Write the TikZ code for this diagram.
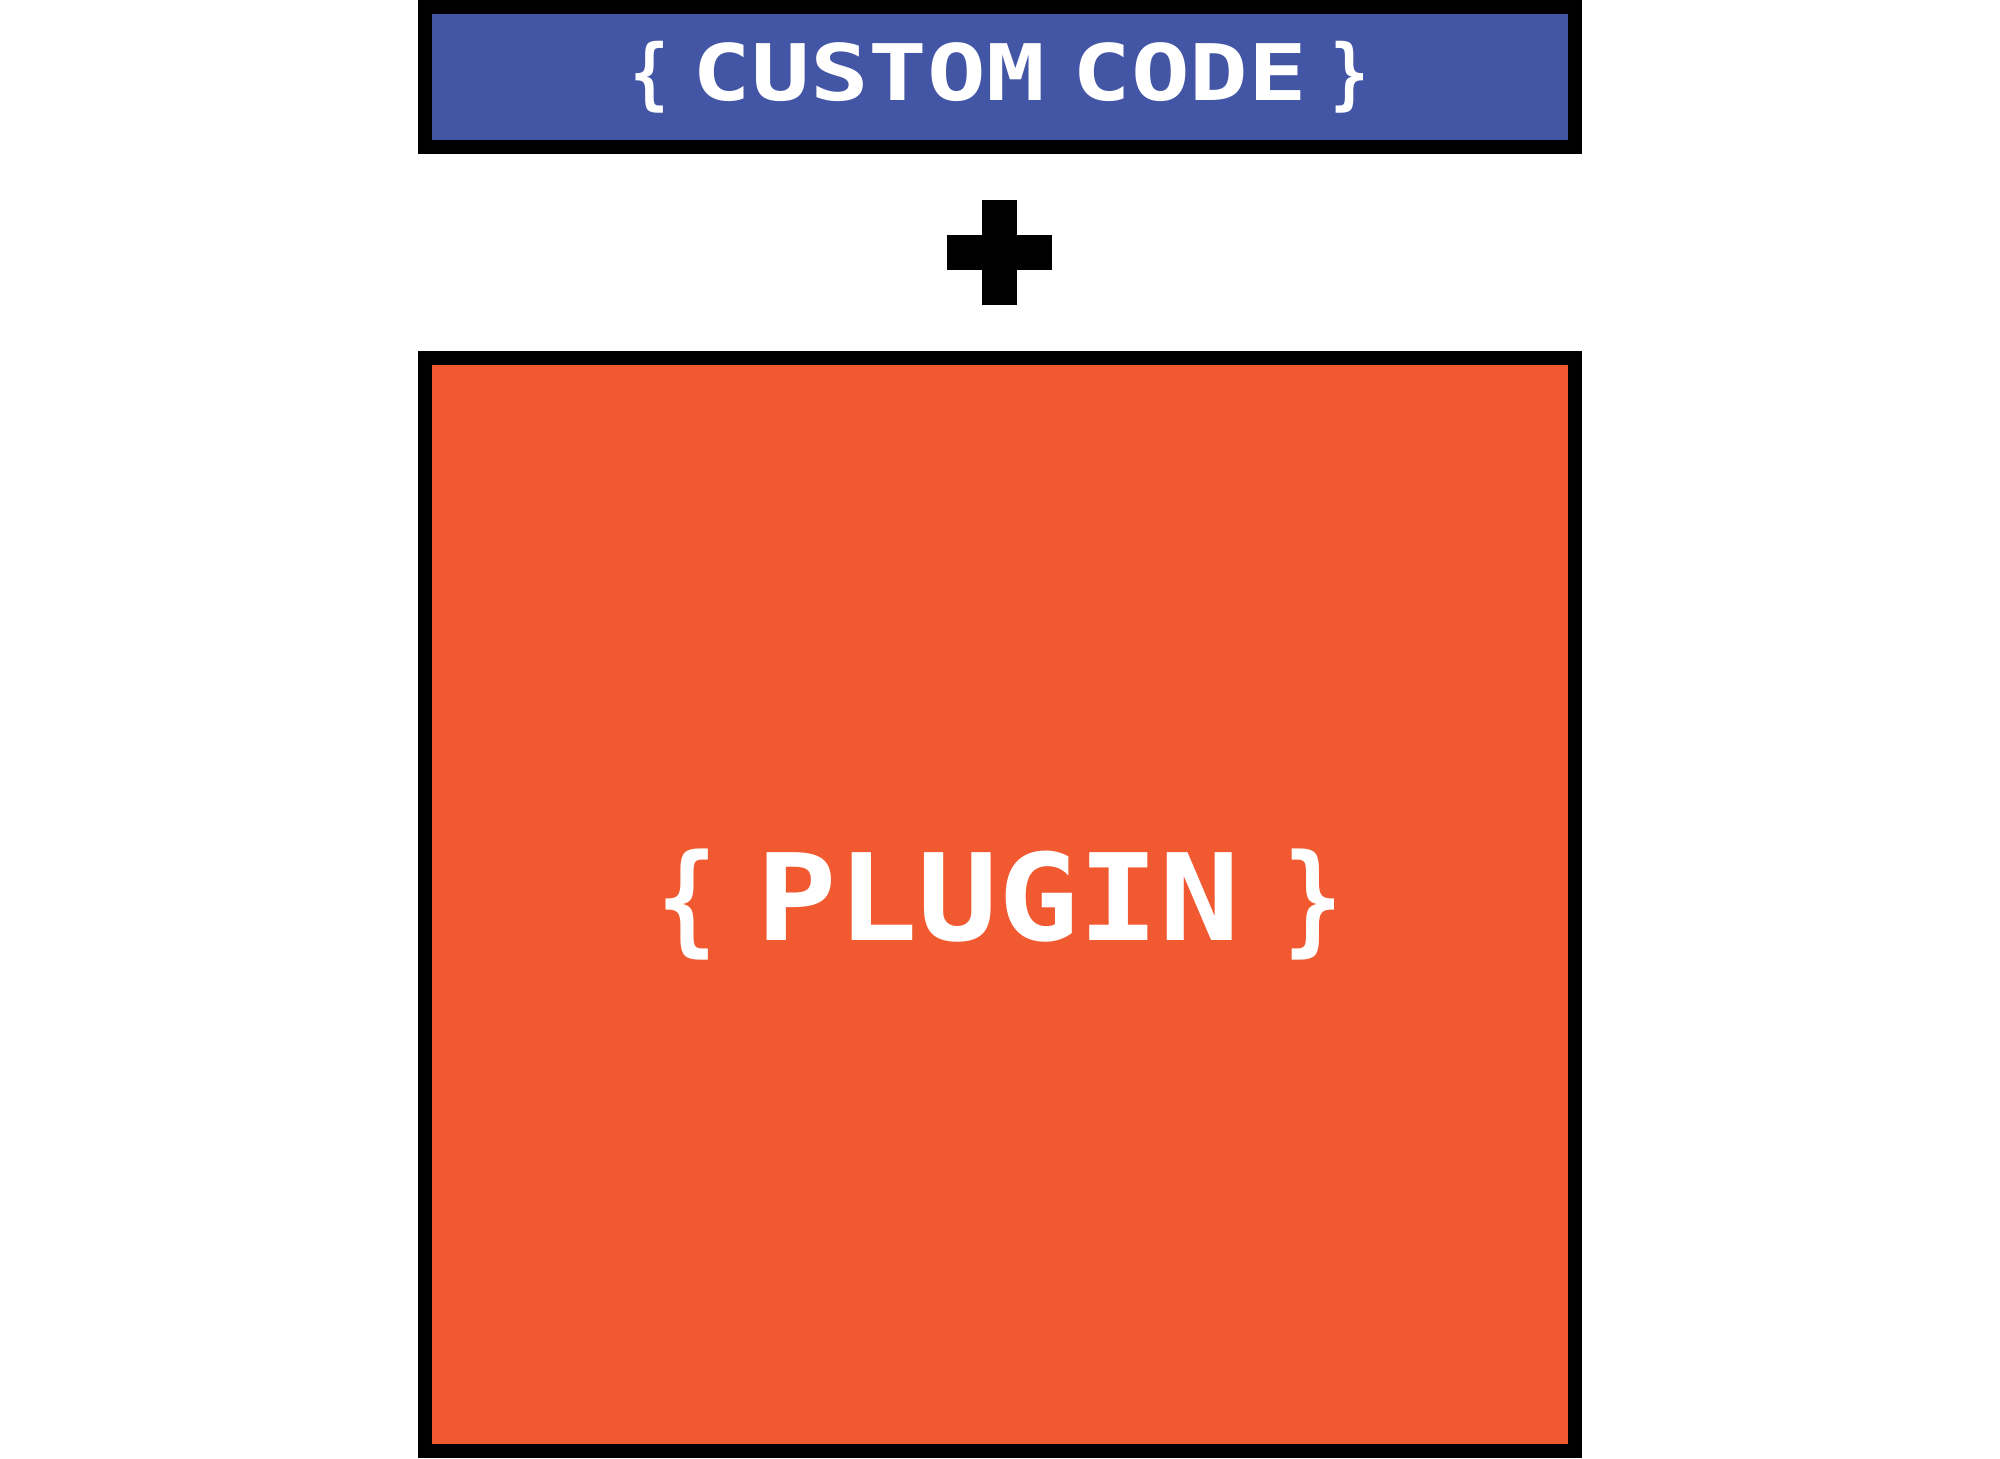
\documentclass[tikz,border=0pt]{standalone}
\usepackage{fontspec}
\newfontfamily\codefont[FakeStretch=1.25]{DejaVu Sans Mono}
\newfontfamily\pluginfont[FakeStretch=1.11]{DejaVu Sans Mono}
\newfontfamily\bracefont[FakeStretch=0.82]{DejaVu Sans Mono}
\definecolor{codeblue}{RGB}{67,86,166}
\definecolor{pluginorange}{RGB}{241,90,48}
\tikzset{
  layerbox/.style={draw=black, line width=1.4mm, inner sep=0pt, text=white,
    minimum width=115mm},
}
\begin{document}
\begin{tikzpicture}[x=0.1mm,y=-0.1mm]
    \useasboundingbox (0,0) rectangle (2000,1459);
      \node[layerbox, fill=codeblue, minimum height=14mm,
        font=\bfseries\fontsize{22.2pt}{26pt}\selectfont] (custom) at (1000,77)
        {{\bracefont\{}\hspace{0.3em}{\codefont CUSTOM\hspace{0.35em}CODE}\hspace{0.3em}{\bracefont\}}};
      \node[layerbox, fill=pluginorange, minimum height=109.3mm,
        font=\bfseries\fontsize{34.3pt}{40pt}\selectfont] (plugin) at (1000,904.5)
        {{\bracefont\{}\hspace{0.33em}{\pluginfont PLUGIN}\hspace{0.36em}{\bracefont\}}};
      % plus sign between the two boxes
      \fill[black] (982,200) rectangle (1017,305);
      \fill[black] (947,235) rectangle (1052,270);
    \end{tikzpicture}
\end{document}
